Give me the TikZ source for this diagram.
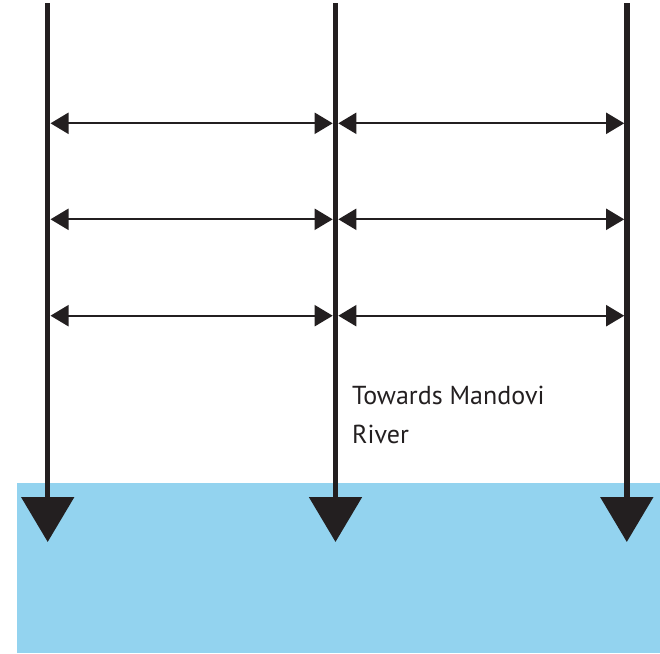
\documentclass[tikz,border=0pt]{standalone}
\usetikzlibrary{arrows.meta}
\usepackage{fontspec}
\setmainfont{PT Sans}
\definecolor{river}{RGB}{147,211,239}
\definecolor{ink}{RGB}{35,31,32}
\tikzset{
  flow/.style={draw=ink, line width=5.5pt, -{Triangle[length=45pt,width=52pt]}},
  gap/.style={draw=ink, line width=2pt, {Triangle[length=18pt,width=21pt]}-{Triangle[length=18pt,width=21pt]}},
  lbl/.style={text=ink, font=\fontsize{26}{39}\selectfont, align=left, anchor=north west, inner sep=0pt}
}
\begin{document}
\begin{tikzpicture}[x=1pt,y=-1pt]
\useasboundingbox (0,0) rectangle (660,653);
\fill[river] (17,483) rectangle (660,653);
% vertical streets
\coordinate (a1) at (47.7,3);   \coordinate (a2) at (47.7,542);
\coordinate (b1) at (335.5,3);  \coordinate (b2) at (335.5,542);
\coordinate (c1) at (626.8,3);  \coordinate (c2) at (626.8,542);
\draw[flow] (a1) -- (a2);
\draw[flow] (b1) -- (b2);
\draw[flow] (c1) -- (c2);
% horizontal arrows
\foreach \i/\y in {1/123.3,2/219.3,3/315.7}{
  \coordinate (l\i) at (50.5,\y);
  \coordinate (m\i) at (332.7,\y);
  \coordinate (n\i) at (338.3,\y);
  \coordinate (r\i) at (624.2,\y);
  \draw[gap] (l\i) -- (m\i);
  \draw[gap] (n\i) -- (r\i);
}
\node[lbl] (t) at (352,386) {Towards Mandovi\\River};
\end{tikzpicture}
\end{document}
